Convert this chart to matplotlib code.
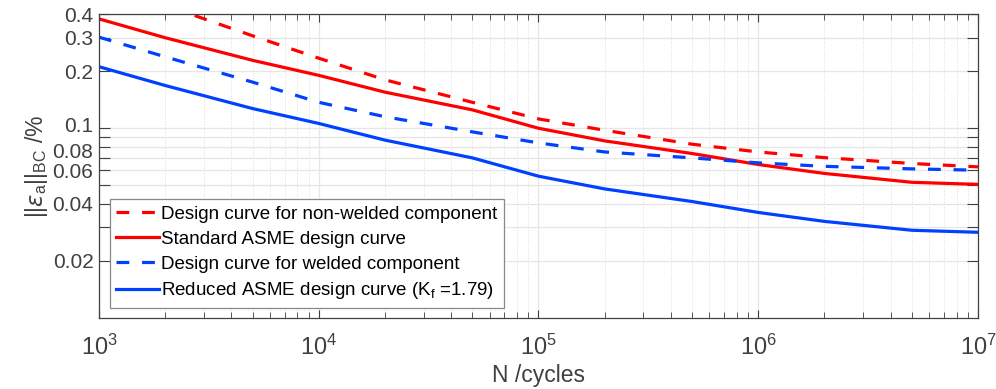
import numpy as np
import matplotlib
matplotlib.use('Agg')
import matplotlib.pyplot as plt
import matplotlib.transforms as mtransforms
from matplotlib.ticker import LogLocator, NullFormatter

plt.rcParams['font.family'] = ['Liberation Sans', 'DejaVu Sans']
plt.rcParams['mathtext.fontset'] = 'custom'
plt.rcParams['mathtext.rm'] = 'Liberation Sans'
plt.rcParams['mathtext.it'] = 'DejaVu Sans:italic'
plt.rcParams['mathtext.cal'] = 'Liberation Sans'

# cycles
N = [1e3, 2e3, 5e3, 1e4, 2e4, 5e4, 1e5, 2e5, 5e5, 1e6, 2e6, 5e6, 1e7]
# strain amplitude /%
non_welded = [0.58, 0.445, 0.307, 0.234, 0.180, 0.137, 0.112, 0.0976, 0.0824, 0.075, 0.070, 0.0652, 0.0626]
asme_std = [0.377, 0.300, 0.228, 0.190, 0.155, 0.125, 0.100, 0.0858, 0.0736, 0.0644, 0.0578, 0.0519, 0.0506]
welded = [0.302, 0.238, 0.175, 0.137, 0.115, 0.0957, 0.0837, 0.075, 0.0698, 0.0657, 0.063, 0.0611, 0.0601]
asme_red = [0.211, 0.168, 0.127, 0.106, 0.0866, 0.0698, 0.0559, 0.0479, 0.0411, 0.0360, 0.0323, 0.0290, 0.0283]

labels = ['Design curve for non-welded component',
          'Standard ASME design curve',
          'Design curve for welded component',
          r'Reduced ASME design curve (K$_{\rm f}$ =1.79)']

red = '#ff0000'
blue = '#0040ff'
txt = '#404040'

fig = plt.figure(figsize=(9.96, 3.89), dpi=100)
ax = fig.add_axes([0.0994, 0.1825, 0.8825, 0.7815])

lw = 2.3
ax.plot(N, non_welded, color=red, lw=lw, ls=(0, (4, 4)), label=labels[0])
ax.plot(N, asme_std, color=red, lw=lw, label=labels[1])
ax.plot(N, welded, color=blue, lw=lw, ls=(0, (4, 4)), label=labels[2])
ax.plot(N, asme_red, color=blue, lw=lw, label=labels[3])

ax.set_xscale('log')
ax.set_yscale('log')
ax.set_xlim(1e3, 1e7)
ax.set_ylim(0.01, 0.4)

# y ticks: MATLAB style, every step, only some labelled
yt = [0.02, 0.03, 0.04, 0.05, 0.06, 0.07, 0.08, 0.09, 0.1, 0.2, 0.3, 0.4]
ytl = ['0.02', '', '0.04', '', '0.06', '', '0.08', '', '0.1', '0.2', '0.3', '0.4']
ax.set_yticks(yt)
ax.set_yticklabels(ytl)
ax.yaxis.set_minor_locator(plt.NullLocator())

ax.xaxis.set_major_locator(LogLocator(base=10, numticks=10))
ax.xaxis.set_minor_locator(LogLocator(base=10, subs=np.arange(2, 10), numticks=100))
ax.xaxis.set_minor_formatter(NullFormatter())

ax.tick_params(which='both', direction='in', top=True, right=True, colors=txt)
ax.tick_params(axis='y', which='major', length=8, width=0.8, labelsize=15, pad=4)
ax.tick_params(axis='x', which='major', length=6, width=0.8, pad=12, labelsize=17)
ax.tick_params(axis='x', which='minor', length=4, width=0.6)

# nudge the close 0.1 / 0.08 labels apart a bit
for tick, lab in zip(ax.yaxis.get_major_ticks(), ytl):
    if lab == '0.1':
        dy = 2.5 / 72
    elif lab == '0.08':
        dy = -2.5 / 72
    else:
        continue
    off = mtransforms.ScaledTranslation(0, dy, fig.dpi_scale_trans)
    tick.label1.set_transform(tick.label1.get_transform() + off)

ax.grid(True, which='major', axis='both', color='#e6e6e6', lw=0.9, ls='-')
ax.grid(True, which='minor', axis='x', color='#dcdcdc', lw=0.7, ls=':')
ax.set_axisbelow(True)

for s in ax.spines.values():
    s.set_color(txt)
    s.set_linewidth(0.9)

ax.set_xlabel('N /cycles', fontsize=16.5, color=txt, labelpad=3)
ax.set_ylabel(r'$||\epsilon_{\rm a}||_{\rm BC}$ /%', fontsize=16.5, color=txt, labelpad=2)

leg = ax.legend(loc='lower left', bbox_to_anchor=(0.012, 0.033), fontsize=13.5,
                frameon=True, fancybox=False, edgecolor='#888888', framealpha=1,
                handlelength=2.3, handletextpad=0.1, borderpad=0.35, labelspacing=0.42,
                borderaxespad=0)
leg.get_frame().set_linewidth(0.9)

fig.savefig('out.png', dpi=100)
